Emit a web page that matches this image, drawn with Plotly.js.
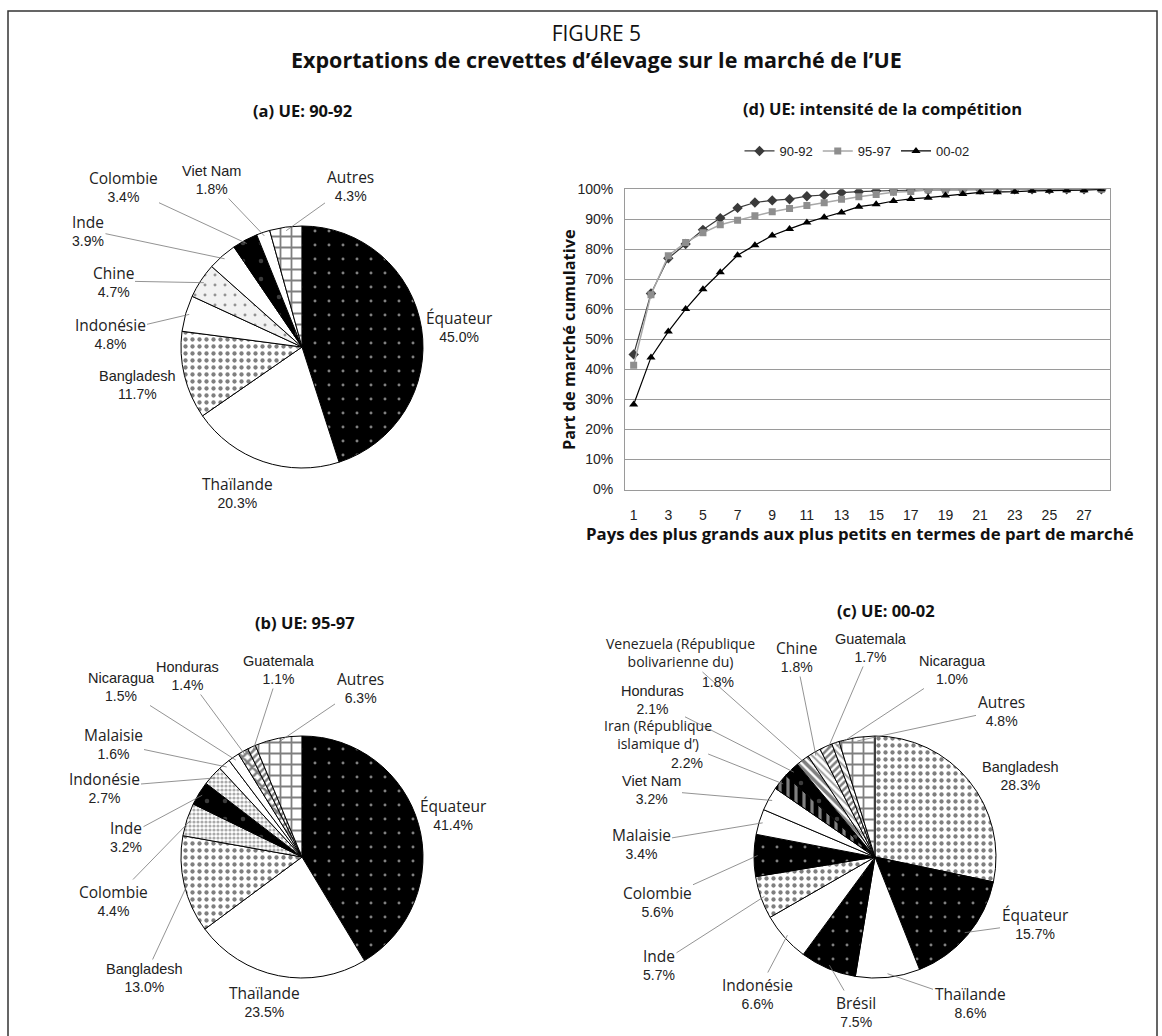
<!DOCTYPE html>
<html><head><meta charset="utf-8">
<script src="https://cdn.plot.ly/plotly-3.0.1.min.js"></script>
<style>body{margin:0;background:#fff}#chart{width:1162px;height:1036px}</style>
</head><body><div id="chart"></div>
<script>
// ---------------- DATA ----------------
const rank = [1,2,3,4,5,6,7,8,9,10,11,12,13,14,15,16,17,18,19,20,21,22,23,24,25,26,27,28];
const cum_90_92 = [45.0,65.3,77.0,81.8,86.5,90.4,93.8,95.6,96.3,96.7,97.7,98.1,98.9,99.2,99.5,99.6,99.7,99.8,99.8,99.9,99.9,100,100,100,100,100,100,100];
const cum_95_97 = [41.4,64.9,77.9,82.3,85.5,88.2,89.7,91.2,92.5,93.6,94.6,95.5,96.7,97.5,98.3,99.0,99.3,99.8,99.8,99.9,99.9,100,100,100,100,100,100,100];
const cum_00_02 = [28.3,44.0,52.6,60.1,66.7,72.4,78.0,81.4,84.6,86.8,88.9,90.7,92.3,94.2,95.0,96.1,96.8,97.2,97.9,98.4,99.0,99.0,99.2,99.5,99.5,99.7,99.7,100];
const seriesNames = ['90-92','95-97','00-02'];

const pieA_countries = ['Équateur','Thaïlande','Bangladesh','Indonésie','Chine','Inde','Colombie','Viet Nam','Autres'];
const pieA_shares = [45.0,20.3,11.7,4.8,4.7,3.9,3.4,1.8,4.3];
const pieB_countries = ['Équateur','Thaïlande','Bangladesh','Colombie','Inde','Indonésie','Malaisie','Nicaragua','Honduras','Guatemala','Autres'];
const pieB_shares = [41.4,23.5,13.0,4.4,3.2,2.7,1.6,1.5,1.4,1.1,6.3];
const pieC_countries = ['Bangladesh','Équateur','Thaïlande','Brésil','Indonésie','Inde','Colombie','Malaisie','Viet Nam','Iran (République<br>islamique d’)','Honduras','Venezuela (République<br>bolivarienne du)','Chine','Guatemala','Nicaragua','Autres'];
const pieC_shares = [28.3,15.7,8.6,7.5,6.6,5.7,5.6,3.4,3.2,2.2,2.1,1.8,1.8,1.7,1.0,4.8];

// ---------------- LAYOUT / STYLE CONFIG ----------------
const W = 1162, H = 1036;
const px = x => x / W, py = y => 1 - y / H;
const ARIAL = 'Liberation Sans, Arial, sans-serif';
const FRUT = 'Open Sans, Noto Sans, sans-serif';

const STYLES = {
  blackDots: {c:'#000', s:'.', fg:'#fff', sz:14, so:0.035},
  dotted:    {c:'#fff', s:'.', fg:'#000', sz:7,  so:0.3},
  white:     {c:'#fff', s:'',  fg:'#000', sz:8,  so:0.3},
  brick:     {c:'#fff', s:'+', fg:'#000', sz:11, so:0.3},
  greyDots:  {c:'#f2f2f2', s:'.', fg:'#333', sz:10, so:0.07},
  greyDense: {c:'#fff', s:'.', fg:'#555', sz:4, so:0.5},
  blackGrey: {c:'#000', s:'.', fg:'#777', sz:18, so:0.05},
  checker:   {c:'#fff', s:'x', fg:'#000', sz:7, so:0.6},
  vstripe:   {c:'#000', s:'|', fg:'#fff', sz:8, so:0.4},
  diag:      {c:'#fff', s:'\\', fg:'#000', sz:6, so:0.6},
  diagL:     {c:'#fff', s:'\\', fg:'#444', sz:5, so:0.4},
  diag2:     {c:'#fff', s:'/', fg:'#000', sz:5, so:0.5}
};
const styleA = ['blackDots','white','dotted','white','greyDots','white','blackGrey','white','brick'];
const styleB = ['blackDots','white','dotted','greyDense','blackGrey','greyDense','white','white','checker','diag2','brick'];
const styleC = ['dotted','blackDots','white','blackDots','white','dotted','blackDots','white','white','vstripe','blackGrey','diag','diagL','diag2','diagL','brick'];

const PIE_A = {cx:302, cy:347, r:121};
const PIE_B = {cx:302, cy:857, r:121};
const PIE_C = {cx:875, cy:857, r:121};

// label centre positions (px), leader line flag, optional separate position [x,y] for the % line
const labelA = [[459,326,0],[237,492,0],[137,385,0],[110,333,1],[113,281,1],[88,230,1],[123,186,1],[211,180,1],[350,185,1]];
const labelB = [[453,814,0],[264,1001,0],[144,978,1],[113,900,1],[126,836,1],[104,787,1],[113,743,1],[121,687,1],[187,676,1],[279,670,1],[360,687,1]];
const labelC = [[1020,776,0],[1035,923,1],[970,1002,1],[856,1011,1],[757,993,1],[659,964,1],[657,901,1],[641,843,1],[651,790,1],[658,734,1,[687,763]],[652,700,1],[680,652,1,[718,682]],[796,656,1],[871,648,1],[952,670,1],[1001,710,1]];
const arialNames = ['Bangladesh','Viet Nam','Nicaragua','Honduras','Guatemala'];

function pieTrace(labels, values, styleKeys, P) {
  const st = styleKeys.map(k => STYLES[k]);
  return {
    type:'pie', labels:labels, values:values, sort:false, direction:'clockwise', rotation:0,
    textinfo:'none', hoverinfo:'label+value', showlegend:false,
    domain:{x:[px(P.cx-P.r), px(P.cx+P.r)], y:[py(P.cy+P.r), py(P.cy-P.r)]},
    marker:{colors:st.map(s=>s.c), line:{color:'#000', width:1},
      pattern:{shape:st.map(s=>s.s), fgcolor:st.map(s=>s.fg), size:st.map(s=>s.sz), solidity:st.map(s=>s.so), fillmode:'overlay'}}
  };
}

function pieLabels(labels, values, pos, P) {
  const tot = values.reduce((a,b)=>a+b,0);
  let cum = 0;
  const out = [];
  labels.forEach((lab,i) => {
    const a = 2*Math.PI*(cum + values[i]/2)/tot; cum += values[i];
    const tx = P.cx + P.r*0.97*Math.sin(a), ty = P.cy - P.r*0.97*Math.cos(a);
    const long = lab.indexOf('<br>') >= 0;
    const fr = '<span style="font-family:Open Sans;font-size:' + (long ? 14 : 15.5) + 'px">';
    const nameHtml = arialNames.includes(lab) ? '<span style="font-size:14.5px">' + lab + '</span>' :
      fr + lab.replace('<br>','</span><br>' + fr) + '</span>';
    const [lx, ly, arrow, pctPos] = pos[i];
    const pct = values[i].toFixed(1) + '%';
    const text = pctPos ? nameHtml : nameHtml + '<br>' + pct;
    const base = {xref:'paper', yref:'paper', text:text, align:'center',
      font:{family:ARIAL, size:14, color:'#222'}};
    if (arrow) {
      out.push(Object.assign(base, {x:px(tx), y:py(ty), showarrow:true, arrowhead:0,
        arrowwidth:0.8, arrowcolor:'#777', ax:lx-tx, ay:ly-ty, standoff:0}));
    } else {
      out.push(Object.assign(base, {x:px(lx), y:py(ly), showarrow:false, xanchor:'center', yanchor:'middle'}));
    }
    if (pctPos) {
      out.push({xref:'paper', yref:'paper', x:px(pctPos[0]), y:py(pctPos[1]), text:pct, showarrow:false,
        xanchor:'center', yanchor:'middle', font:{family:ARIAL, size:14, color:'#222'}});
    }
  });
  return out;
}

const lineTraces = [
  {x:rank, y:cum_90_92, name:seriesNames[0], type:'scatter', mode:'lines+markers',
   line:{color:'#3a3a3a', width:1.2}, marker:{symbol:'diamond', size:8, color:'#3a3a3a'}},
  {x:rank, y:cum_95_97, name:seriesNames[1], type:'scatter', mode:'lines+markers',
   line:{color:'#a8a8a8', width:1.5}, marker:{symbol:'square', size:7, color:'#8e8e8e'}},
  {x:rank, y:cum_00_02, name:seriesNames[2], type:'scatter', mode:'lines+markers',
   line:{color:'#000', width:1.2}, marker:{symbol:'triangle-up', size:8, color:'#000'}}
];

const data = lineTraces.concat([
  pieTrace(pieA_countries, pieA_shares, styleA, PIE_A),
  pieTrace(pieB_countries, pieB_shares, styleB, PIE_B),
  pieTrace(pieC_countries, pieC_shares, styleC, PIE_C)
]);

const titleAnn = (t, x, y, size, bold, extra) => Object.assign({
  xref:'paper', yref:'paper', x:px(x), y:py(y), showarrow:false, xanchor:'center', yanchor:'middle',
  text: bold ? '<b>'+t+'</b>' : t, font:{family:FRUT, size:size, color:'#111'}}, extra||{});

const annotations = [
  titleAnn('FIGURE 5<br><b><span style="font-size:21.5px">Exportations de crevettes d’élevage sur le marché de l’UE</span></b>', 596, 47, 21, false),
  titleAnn('(a) UE: 90-92', 303, 110, 16.5, true),
  titleAnn('(d) UE: intensité de la compétition', 882, 108, 16.5, true),
  titleAnn('(b) UE: 95-97', 305, 622, 16.5, true),
  titleAnn('(c) UE: 00-02', 886, 610, 16.5, true),
  titleAnn('Pays des plus grands aux plus petits en termes de part de marché', 860, 533, 16.8, true),
  titleAnn('Part de marché cumulative', 569, 340, 16.3, true, {textangle:-90})
].concat(pieLabels(pieA_countries, pieA_shares, labelA, PIE_A))
 .concat(pieLabels(pieB_countries, pieB_shares, labelB, PIE_B))
 .concat(pieLabels(pieC_countries, pieC_shares, labelC, PIE_C));

const layout = {
  width:W, height:H, margin:{l:0,r:0,t:0,b:0}, paper_bgcolor:'#fff', plot_bgcolor:'#fff',
  showlegend:true,
  legend:{orientation:'h', x:px(857), xanchor:'center', y:py(151), yanchor:'middle',
    font:{family:ARIAL, size:13, color:'#222'}, bgcolor:'rgba(0,0,0,0)', itemwidth:30, traceorder:'normal'},
  xaxis:{domain:[px(625), px(1110)], range:[0.5,28.5], tick0:1, dtick:2, showgrid:false, zeroline:false,
    showline:true, linecolor:'#9a9a9a', linewidth:1, mirror:true, ticks:'', ticklabelstandoff:13,
    tickfont:{family:ARIAL, size:14, color:'#222'}},
  yaxis:{domain:[py(489.5), py(189.3)], range:[0,100], dtick:10, ticksuffix:'%', showgrid:true,
    gridcolor:'#9a9a9a', gridwidth:1, zeroline:false, showline:true, linecolor:'#9a9a9a', linewidth:1, mirror:true,
    ticks:'', ticklabelstandoff:8, tickfont:{family:ARIAL, size:14, color:'#222'}},
  annotations:annotations,
  shapes:[{type:'rect', xref:'paper', yref:'paper', x0:px(8), x1:px(1157), y0:-0.05, y1:py(11),
    line:{color:'#333', width:1.5}, fillcolor:'rgba(0,0,0,0)', layer:'below'}]
};

Plotly.newPlot('chart', data, layout, {displayModeBar:false, staticPlot:true});
</script></body></html>
